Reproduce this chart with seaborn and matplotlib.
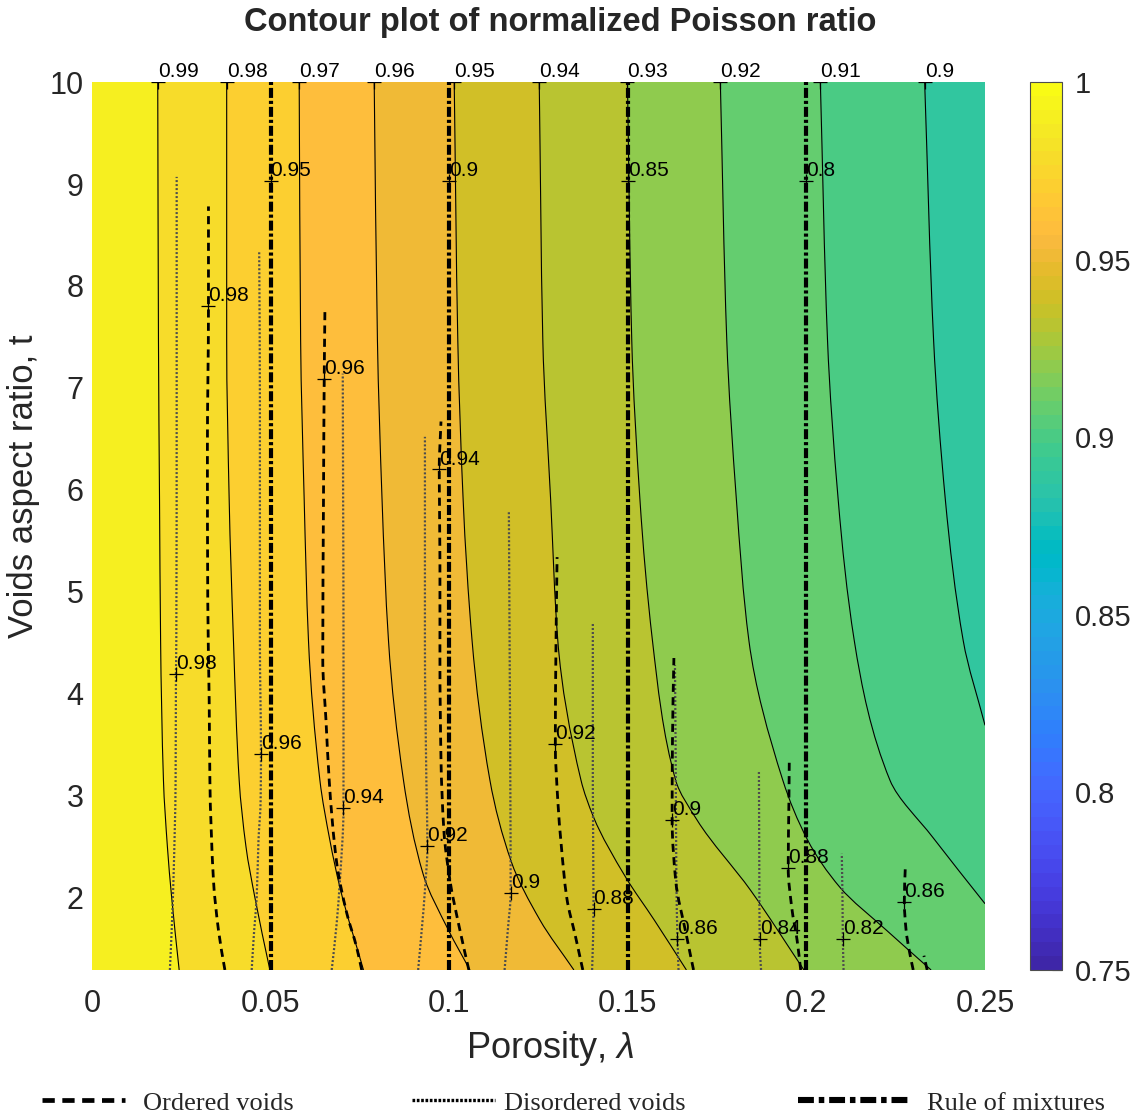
import numpy as np
import matplotlib
matplotlib.use("Agg")
import matplotlib.pyplot as plt
from matplotlib.colors import ListedColormap, Normalize
from matplotlib.cm import ScalarMappable
from matplotlib.lines import Line2D
from matplotlib.path import Path
from matplotlib.patches import PathPatch
import seaborn as sns

# ------------------------------------------------------------------ data
# solid contours of the normalized Poisson ratio (aspect ratio t, porosity lambda)
c099_t = [10, 7.47, 5.9, 4.52, 3.15, 2.5, 2.0, 1.29]
c099_l = [0.0184, 0.0186, 0.0189, 0.0192, 0.0200, 0.0211, 0.0223, 0.0244]
c098_t = [10, 7.47, 5.9, 4.52, 3.15, 2.5, 2.0, 1.29]
c098_l = [0.0377, 0.0377, 0.0384, 0.0396, 0.0412, 0.0431, 0.0456, 0.0498]
c097_t = [10, 7.47, 5.9, 4.52, 3.15, 2.56, 2.1, 1.29]
c097_l = [0.0580, 0.0584, 0.0594, 0.0606, 0.0638, 0.0666, 0.0694, 0.0760]
c096_t = [10, 7.47, 5.9, 4.52, 3.15, 2.23, 1.68, 1.29]
c096_l = [0.0790, 0.0799, 0.0812, 0.0830, 0.0872, 0.0927, 0.0998, 0.1058]
c095_t = [10, 7.47, 5.9, 4.52, 3.15, 2.35, 1.78, 1.29]
c095_l = [0.1014, 0.1024, 0.1039, 0.1064, 0.1114, 0.1174, 0.1254, 0.1349]
c094_t = [10, 7.47, 5.9, 4.52, 3.15, 2.79, 2.2, 1.78, 1.29]
c094_l = [0.1252, 0.1262, 0.1284, 0.1304, 0.1369, 0.1404, 0.1494, 0.1574, 0.1664]
c093_t = [10, 7.47, 5.9, 4.52, 3.15, 2.76, 2.07, 1.29]
c093_l = [0.1499, 0.1511, 0.1534, 0.1569, 0.1634, 0.1694, 0.1844, 0.1993]
c092_t = [10, 7.47, 5.9, 4.52, 3.15, 2.56, 2.1, 1.68, 1.29]
c092_l = [0.1759, 0.1777, 0.1804, 0.1839, 0.1934, 0.2004, 0.2094, 0.2224, 0.2349]
c091_t = [10, 7.47, 5.9, 4.52, 3.15, 2.59, 1.94]
c091_l = [0.2039, 0.2059, 0.2089, 0.2134, 0.2234, 0.2354, 0.2500]
c090_t = [10, 7.47, 5.9, 4.52, 3.69]
c090_l = [0.2331, 0.2356, 0.2389, 0.2439, 0.2500]
contour_levels = [0.99, 0.98, 0.97, 0.96, 0.95, 0.94, 0.93, 0.92, 0.91, 0.90]
contour_texts = ["0.99", "0.98", "0.97", "0.96", "0.95", "0.94", "0.93", "0.92", "0.91", "0.9"]

# ordered voids (dashed)
o098_t = [8.78, 7.80, 6.39, 4.92, 3.94, 3.15, 2.17, 1.68, 1.29]
o098_l = [0.0326, 0.0326, 0.0323, 0.0324, 0.0328, 0.0330, 0.0340, 0.0354, 0.0372]
o096_t = [7.76, 7.085, 5.90, 4.33, 3.74, 3.15, 2.34, 1.85, 1.51, 1.29]
o096_l = [0.0652, 0.0650, 0.0648, 0.0646, 0.0655, 0.0664, 0.0685, 0.0713, 0.0741, 0.0755]
o094_t = [6.67, 6.20, 5.31, 4.33, 3.35, 2.66, 2.17, 1.68, 1.29]
o094_l = [0.0977, 0.0972, 0.0974, 0.0974, 0.0977, 0.0985, 0.1002, 0.1030, 0.1055]
o092_t = [5.34, 4.52, 3.51, 2.95, 2.50, 2.00, 1.61, 1.29]
o092_l = [0.1302, 0.1299, 0.1297, 0.1304, 0.1314, 0.1329, 0.1354, 0.1374]
o090_t = [4.35, 3.54, 2.76, 2.17, 1.63, 1.29]
o090_l = [0.1629, 0.1625, 0.1624, 0.1634, 0.1664, 0.1684]
o088_t = [3.33, 2.95, 2.29, 1.90, 1.58, 1.29]
o088_l = [0.1952, 0.1951, 0.1949, 0.1959, 0.1974, 0.1984]
o086_t = [2.31, 1.96, 1.68, 1.46, 1.29]
o086_l = [0.2277, 0.2274, 0.2279, 0.2289, 0.2299]
o084_t = [1.43, 1.29]
o084_l = [0.2329, 0.2338]
ordered_label_text = ["0.98", "0.96", "0.94", "0.92", "0.9", "0.88", "0.86"]
ordered_label_t = [7.80, 7.085, 6.20, 3.51, 2.76, 2.29, 1.96]
ordered_label_l = [0.0326, 0.0650, 0.0972, 0.1297, 0.1624, 0.1949, 0.2274]

# disordered voids (dotted)
d098_t = [9.07, 6.88, 4.52, 4.19, 3.15, 2.17, 1.68, 1.29]
d098_l = [0.0237, 0.0237, 0.0236, 0.0235, 0.0234, 0.0228, 0.0223, 0.0218]
d096_t = [8.33, 6.88, 4.52, 3.405, 2.95, 2.56, 2.00, 1.68, 1.29]
d096_l = [0.0468, 0.0470, 0.0470, 0.0473, 0.0472, 0.0466, 0.0461, 0.0454, 0.0447]
d094_t = [7.14, 5.90, 4.52, 3.35, 2.875, 2.17, 1.75, 1.29]
d094_l = [0.0702, 0.0703, 0.0704, 0.0704, 0.0704, 0.0694, 0.0685, 0.0671]
d092_t = [6.52, 4.52, 3.15, 2.51, 2.07, 1.68, 1.29]
d092_l = [0.0932, 0.0932, 0.0936, 0.0939, 0.0932, 0.0923, 0.0913]
d090_t = [5.78, 4.52, 3.15, 2.05, 1.68, 1.29]
d090_l = [0.1167, 0.1169, 0.1171, 0.1172, 0.1164, 0.1155]
d088_t = [4.69, 3.15, 1.89, 1.29]
d088_l = [0.1402, 0.1402, 0.1404, 0.1400]
d086_t = [4.28, 3.35, 2.17, 1.595, 1.29]
d086_l = [0.1632, 0.1634, 0.1636, 0.1639, 0.1642]
d084_t = [3.25, 2.37, 1.59, 1.29]
d084_l = [0.1867, 0.1868, 0.1869, 0.1873]
d082_t = [2.43, 1.97, 1.59, 1.29]
d082_l = [0.2099, 0.2101, 0.2102, 0.2104]
disordered_label_text = ["0.98", "0.96", "0.94", "0.92", "0.9", "0.88", "0.86", "0.84", "0.82"]
disordered_label_t = [4.19, 3.405, 2.875, 2.51, 2.05, 1.89, 1.595, 1.59, 1.59]
disordered_label_l = [0.0235, 0.0473, 0.0704, 0.0939, 0.1172, 0.1404, 0.1639, 0.1869, 0.2102]

# rule of mixtures (vertical dash-dot)
rom_lambda = [0.05, 0.10, 0.15, 0.20]
rom_text = ["0.95", "0.9", "0.85", "0.8"]
rom_label_t = 9.03

t_range = [1.29, 10.0]
lambda_range = [0.0, 0.25]
x_ticks = [0, 0.05, 0.1, 0.15, 0.2, 0.25]
x_ticklabels = ["0", "0.05", "0.1", "0.15", "0.2", "0.25"]
y_ticks = [2, 3, 4, 5, 6, 7, 8, 9, 10]
cbar_ticks = [0.75, 0.8, 0.85, 0.9, 0.95, 1.0]
cbar_ticklabels = ["0.75", "0.8", "0.85", "0.9", "0.95", "1"]

# ------------------------------------------------------------------ colormap (parula)
parula_rgb = [
    [0.2422, 0.1504, 0.6603], [0.2504, 0.1650, 0.7076], [0.2578, 0.1818, 0.7511],
    [0.2647, 0.1978, 0.7952], [0.2706, 0.2147, 0.8364], [0.2751, 0.2342, 0.8710],
    [0.2783, 0.2559, 0.8991], [0.2803, 0.2782, 0.9221], [0.2813, 0.3006, 0.9414],
    [0.2810, 0.3228, 0.9579], [0.2795, 0.3447, 0.9717], [0.2760, 0.3667, 0.9829],
    [0.2699, 0.3892, 0.9906], [0.2602, 0.4123, 0.9952], [0.2440, 0.4358, 0.9988],
    [0.2206, 0.4603, 0.9973], [0.1963, 0.4847, 0.9892], [0.1834, 0.5074, 0.9798],
    [0.1786, 0.5289, 0.9682], [0.1764, 0.5499, 0.9520], [0.1687, 0.5703, 0.9359],
    [0.1540, 0.5902, 0.9218], [0.1460, 0.6091, 0.9079], [0.1380, 0.6276, 0.8973],
    [0.1248, 0.6459, 0.8883], [0.1113, 0.6635, 0.8763], [0.0952, 0.6798, 0.8598],
    [0.0689, 0.6948, 0.8394], [0.0297, 0.7082, 0.8163], [0.0036, 0.7203, 0.7917],
    [0.0067, 0.7312, 0.7660], [0.0433, 0.7411, 0.7394], [0.0964, 0.7500, 0.7120],
    [0.1408, 0.7584, 0.6842], [0.1717, 0.7670, 0.6554], [0.1938, 0.7758, 0.6251],
    [0.2161, 0.7843, 0.5923], [0.2470, 0.7918, 0.5567], [0.2906, 0.7973, 0.5188],
    [0.3406, 0.8008, 0.4789], [0.3909, 0.8029, 0.4354], [0.4456, 0.8024, 0.3909],
    [0.5044, 0.7993, 0.3480], [0.5616, 0.7942, 0.3045], [0.6174, 0.7876, 0.2612],
    [0.6720, 0.7793, 0.2227], [0.7242, 0.7698, 0.1910], [0.7738, 0.7598, 0.1646],
    [0.8203, 0.7498, 0.1535], [0.8634, 0.7406, 0.1596], [0.9035, 0.7330, 0.1774],
    [0.9393, 0.7288, 0.2100], [0.9728, 0.7298, 0.2394], [0.9956, 0.7434, 0.2371],
    [0.9970, 0.7659, 0.2199], [0.9952, 0.7893, 0.2028], [0.9892, 0.8136, 0.1885],
    [0.9786, 0.8386, 0.1766], [0.9676, 0.8639, 0.1643], [0.9610, 0.8890, 0.1537],
    [0.9597, 0.9135, 0.1423], [0.9628, 0.9373, 0.1265], [0.9691, 0.9606, 0.1064],
    [0.9769, 0.9839, 0.0805]]
parula = ListedColormap(parula_rgb, name="parula")
norm = Normalize(vmin=0.75, vmax=1.0)


def curve_path(tt, ll):
    """Smooth (monotone cubic Hermite) drawing path through the read points,
    ordered from small t to large t, expressed as Bezier segments."""
    t = np.asarray(tt, float)[::-1]
    l = np.asarray(ll, float)[::-1]
    h = np.diff(t)
    d = np.diff(l) / h
    n = len(t)
    m = np.zeros(n)
    m[0], m[-1] = d[0], d[-1]
    for k in range(1, n - 1):
        if d[k - 1] * d[k] <= 0:
            m[k] = 0.0
        else:
            w1 = 2 * h[k] + h[k - 1]
            w2 = h[k] + 2 * h[k - 1]
            m[k] = (w1 + w2) / (w1 / d[k - 1] + w2 / d[k])
    verts = [(l[0], t[0])]
    codes = [Path.MOVETO]
    for k in range(n - 1):
        verts += [(l[k] + m[k] * h[k] / 3, t[k] + h[k] / 3),
                  (l[k + 1] - m[k + 1] * h[k] / 3, t[k + 1] - h[k] / 3),
                  (l[k + 1], t[k + 1])]
        codes += [Path.CURVE4] * 3
    return verts, codes


# ------------------------------------------------------------------ style
sns.set_style("white")
plt.rcParams["font.family"] = ["Liberation Sans", "DejaVu Sans"]
plt.rcParams["mathtext.fontset"] = "custom"
plt.rcParams["mathtext.it"] = "Liberation Sans:italic"
plt.rcParams["mathtext.rm"] = "Liberation Sans"

fig = plt.figure(figsize=(11.36, 11.18), dpi=100)
ax = fig.add_axes([0.081, 0.1324, 0.7861, 0.7942])
cax = fig.add_axes([0.9067, 0.1324, 0.0282, 0.7942])

solid = [(c099_t, c099_l), (c098_t, c098_l), (c097_t, c097_l), (c096_t, c096_l),
         (c095_t, c095_l), (c094_t, c094_l), (c093_t, c093_l), (c092_t, c092_l),
         (c091_t, c091_l), (c090_t, c090_l)]
ordered = [(o098_t, o098_l), (o096_t, o096_l), (o094_t, o094_l), (o092_t, o092_l),
           (o090_t, o090_l), (o088_t, o088_l), (o086_t, o086_l), (o084_t, o084_l)]
disordered = [(d098_t, d098_l), (d096_t, d096_l), (d094_t, d094_l), (d092_t, d092_l),
              (d090_t, d090_l), (d088_t, d088_l), (d086_t, d086_l), (d084_t, d084_l),
              (d082_t, d082_l)]

# filled bands: each band coloured by its lower contour value
ax.fill_betweenx(t_range, lambda_range[0], lambda_range[1],
                 color=parula(norm(contour_levels[0])), lw=0, zorder=1)
for i, (lev, (tt, ll)) in enumerate(zip(contour_levels, solid)):
    verts, codes = curve_path(tt, ll)
    t_lo = min(tt)
    verts = verts + [(lambda_range[1], t_range[1]), (lambda_range[1], t_lo), (0, 0)]
    codes = codes + [Path.LINETO, Path.LINETO, Path.CLOSEPOLY]
    ax.add_patch(PathPatch(Path(verts, codes), facecolor=parula(norm(lev - 0.01)),
                           lw=0, zorder=1.1 + 0.01 * i))

# solid contour lines
for tt, ll in solid:
    verts, codes = curve_path(tt, ll)
    ax.add_patch(PathPatch(Path(verts, codes), fill=False, edgecolor="black",
                           lw=0.8, zorder=3))

# disordered voids (dotted)
for tt, ll in disordered:
    verts, codes = curve_path(tt, ll)
    ax.add_patch(PathPatch(Path(verts, codes), fill=False, edgecolor="0.3",
                           lw=1.6, ls=(0, (0.9, 0.9)), zorder=4))

# ordered voids (dashed)
for tt, ll in ordered:
    verts, codes = curve_path(tt, ll)
    ax.add_patch(PathPatch(Path(verts, codes), fill=False, edgecolor="black",
                           lw=2.0, ls=(0, (2.9, 1.9)), zorder=5))

# rule of mixtures
for lam in rom_lambda:
    sns.lineplot(x=[lam, lam], y=t_range, ax=ax, color="black", lw=3.0,
                 estimator=None, sort=False, zorder=6,
                 dashes=False).lines[-1].set_linestyle((0, (2.4, 0.7, 0.75, 0.7)))

lab_kw = dict(textcoords="offset points", xytext=(0, 7.5), ha="left", va="center",
              fontsize=15, color="black", zorder=8, annotation_clip=False)
mk_kw = dict(marker="+", ms=10, mew=0.9, color="black", ls="none", zorder=7)

for txt, (tt, ll) in zip(contour_texts, solid):
    ax.plot([ll[0]], [tt[0]], **mk_kw)
    ax.annotate(txt, (ll[0], tt[0]), **lab_kw)
for txt, lam in zip(rom_text, rom_lambda):
    ax.plot([lam], [rom_label_t], **mk_kw)
    ax.annotate(txt, (lam, rom_label_t), **lab_kw)
for txt, tt, ll in zip(ordered_label_text, ordered_label_t, ordered_label_l):
    ax.plot([ll], [tt], **mk_kw)
    ax.annotate(txt, (ll, tt), **lab_kw)
for txt, tt, ll in zip(disordered_label_text, disordered_label_t, disordered_label_l):
    ax.plot([ll], [tt], **mk_kw)
    ax.annotate(txt, (ll, tt), **lab_kw)

ax.set_xlim(lambda_range)
ax.set_ylim(t_range)
ax.set_xticks(x_ticks)
ax.set_xticklabels(x_ticklabels)
ax.set_yticks(y_ticks)
ax.set_yticklabels([str(v) for v in y_ticks])
ax.tick_params(axis="both", length=0, labelsize=22, colors="#262626")
ax.tick_params(axis="x", pad=14)
ax.tick_params(axis="y", pad=6)
for s in ax.spines.values():
    s.set_visible(False)
ax.set_xlabel(r"Porosity, $\lambda$", fontsize=26, color="#262626")
ax.set_ylabel("Voids aspect ratio, t", fontsize=25, color="#262626")
ax.xaxis.set_label_coords(0.513, -0.066)
ax.yaxis.set_label_coords(-0.058, 0.545)

# colorbar
cb = fig.colorbar(ScalarMappable(norm=norm, cmap=parula), cax=cax)
cb.set_ticks(cbar_ticks)
cb.set_ticklabels(cbar_ticklabels)
cax.tick_params(direction="in", length=7, width=0.8, labelsize=21, pad=9,
                colors="#262626")
cb.outline.set_linewidth(0.8)
cb.outline.set_edgecolor("0.3")

# title
fig.text(0.493, 0.980, "Contour plot of normalized Poisson ratio", ha="center",
         va="center", fontsize=23.5, fontweight="bold")

# legend (three separate entries, as in the reference)
leg_font = {"family": "Liberation Serif", "size": 19}
leg_specs = [
    (Line2D([], [], color="black", lw=3.4, ls=(0, (2.6, 1.6))), "Ordered voids",
     42, 3.15, 0.68),
    (Line2D([], [], color="black", lw=2.4, ls=(0, (0.8, 0.5))), "Disordered voids",
     412, 3.15, 0.32),
    (Line2D([], [], color="black", lw=4.4, ls=(0, (2.6, 0.8, 0.9, 0.8))),
     "Rule of mixtures", 798, 4.3, 0.6),
]
for h, lab, x0, hl, pad in leg_specs:
    fig.legend([h], [lab], loc="center left", bbox_to_anchor=(x0 / 1136, 0.0135),
               frameon=False, prop=leg_font, handlelength=hl, handletextpad=pad,
               borderpad=0, borderaxespad=0)

fig.savefig("out.png", dpi=100)
